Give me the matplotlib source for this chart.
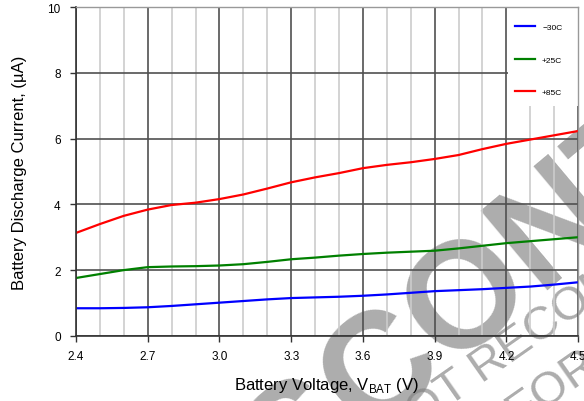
import numpy as np
import matplotlib
matplotlib.use("Agg")
import matplotlib.pyplot as plt
from matplotlib.patches import Rectangle
from matplotlib.ticker import MultipleLocator
from matplotlib.textpath import TextPath
from matplotlib.font_manager import FontProperties

plt.rcParams['font.family'] = ['Liberation Sans', 'DejaVu Sans']

# battery voltage (V)
vbat = [2.4, 2.5, 2.6, 2.7, 2.8, 2.9, 3.0, 3.1, 3.2, 3.3, 3.4,
        3.5, 3.6, 3.7, 3.8, 3.9, 4.0, 4.1, 4.2, 4.3, 4.4, 4.5]

# discharge current (uA) per temperature
i_m30 = [0.84, 0.84, 0.85, 0.87, 0.91, 0.96, 1.01, 1.06, 1.11, 1.15, 1.17,
         1.19, 1.22, 1.26, 1.31, 1.36, 1.39, 1.42, 1.46, 1.50, 1.56, 1.63]
i_p25 = [1.76, 1.88, 2.00, 2.09, 2.11, 2.12, 2.14, 2.18, 2.25, 2.33, 2.38,
         2.44, 2.49, 2.53, 2.56, 2.59, 2.66, 2.74, 2.82, 2.88, 2.94, 3.00]
i_p85 = [3.13, 3.40, 3.65, 3.84, 3.98, 4.05, 4.16, 4.30, 4.48, 4.67, 4.82,
         4.95, 5.10, 5.20, 5.28, 5.38, 5.50, 5.68, 5.84, 5.97, 6.10, 6.23]

labels = ['\u221230C', '+25C', '+85C']
colors = ['#0000ff', '#008000', '#ff0000']

xticks = [2.4, 2.7, 3.0, 3.3, 3.6, 3.9, 4.2, 4.5]
yticks = [0, 2, 4, 6, 8, 10]

W, H = 584, 402
fig = plt.figure(figsize=(W / 100, H / 100), dpi=100)
ax = fig.add_axes([0.130, 0.162, 0.860, 0.818])
ax.patch.set_alpha(0)   # let the stamp show through under the grid

ax.set_xlim(2.4, 4.5)
ax.set_ylim(0, 10)
ax.set_xticks(xticks)
ax.set_xticklabels(['%.1f' % v for v in xticks])
ax.set_yticks(yticks)
ax.xaxis.set_minor_locator(MultipleLocator(0.1))

ax.grid(which='minor', axis='x', color='#cccccc', linewidth=1.2, zorder=0)
ax.grid(which='major', color='#505050', linewidth=1.2, zorder=0.5)
ax.set_axisbelow(True)

# white box behind the legend
ax.add_patch(Rectangle((4.205, 7.0), 0.3, 3.0, facecolor='white',
                       edgecolor='none', zorder=1))

for y, c, lab in zip([i_m30, i_p25, i_p85], colors, labels):
    ax.plot(vbat, y, color=c, linewidth=1.6, label=lab, zorder=2)

leg = ax.legend(loc='upper right', bbox_to_anchor=(1.0, 1.0), frameon=False,
                fontsize=6, handlelength=2.4, handletextpad=0.8,
                labelspacing=3.0, borderaxespad=1.5)

for s in ['left', 'bottom']:
    ax.spines[s].set_color('#333333')
    ax.spines[s].set_linewidth(1.2)
for s in ['top', 'right']:
    ax.spines[s].set_color('#999999')
    ax.spines[s].set_linewidth(1.0)

ax.tick_params(which='major', length=4, width=1, color='#333333',
               labelsize=8.5, pad=6.5)
ax.tick_params(axis='y', pad=7)
ax.tick_params(which='minor', length=0)

ax.set_xlabel('Battery Voltage, V$_{\\mathregular{BAT}}$ (V)', fontsize=12, labelpad=9)
ax.set_ylabel('Battery Discharge Current, (\u00b5A)', fontsize=12, labelpad=15)


# datasheet stamp, drawn under the axes.
# places `text` so that its letter number `idx` is centred on pixel (px, py)
def stamp(text, idx, px, py, size, angle, weight='normal'):
    fp = FontProperties(family='Liberation Sans', weight=weight, size=size)
    k = 100 / 72.0
    ext = TextPath((0, 0), text[:idx + 1], prop=fp).get_extents()
    let = TextPath((0, 0), text[idx], prop=fp).get_extents()
    a = (ext.x1 - let.width / 2) * k
    h = (let.y0 + let.y1) / 2 * k
    t = np.radians(angle)
    x = px - a * np.cos(t) + h * np.sin(t)
    y = (H - py) - a * np.sin(t) - h * np.cos(t)
    fig.text(x / W, y / H, text, fontproperties=fp, color='#808080',
             alpha=0.65, rotation=angle, rotation_mode='anchor',
             ha='left', va='baseline', zorder=-1)


stamp('DISCONTINUED', 4, 460, 288, 108, 40, weight='bold')
stamp('NOT RECOMMENDED', 4, 487, 360, 34, 35)
stamp('FOR NEW DESIGNS', 1, 548, 388, 34, 35)

fig.savefig('out.png', dpi=100)
